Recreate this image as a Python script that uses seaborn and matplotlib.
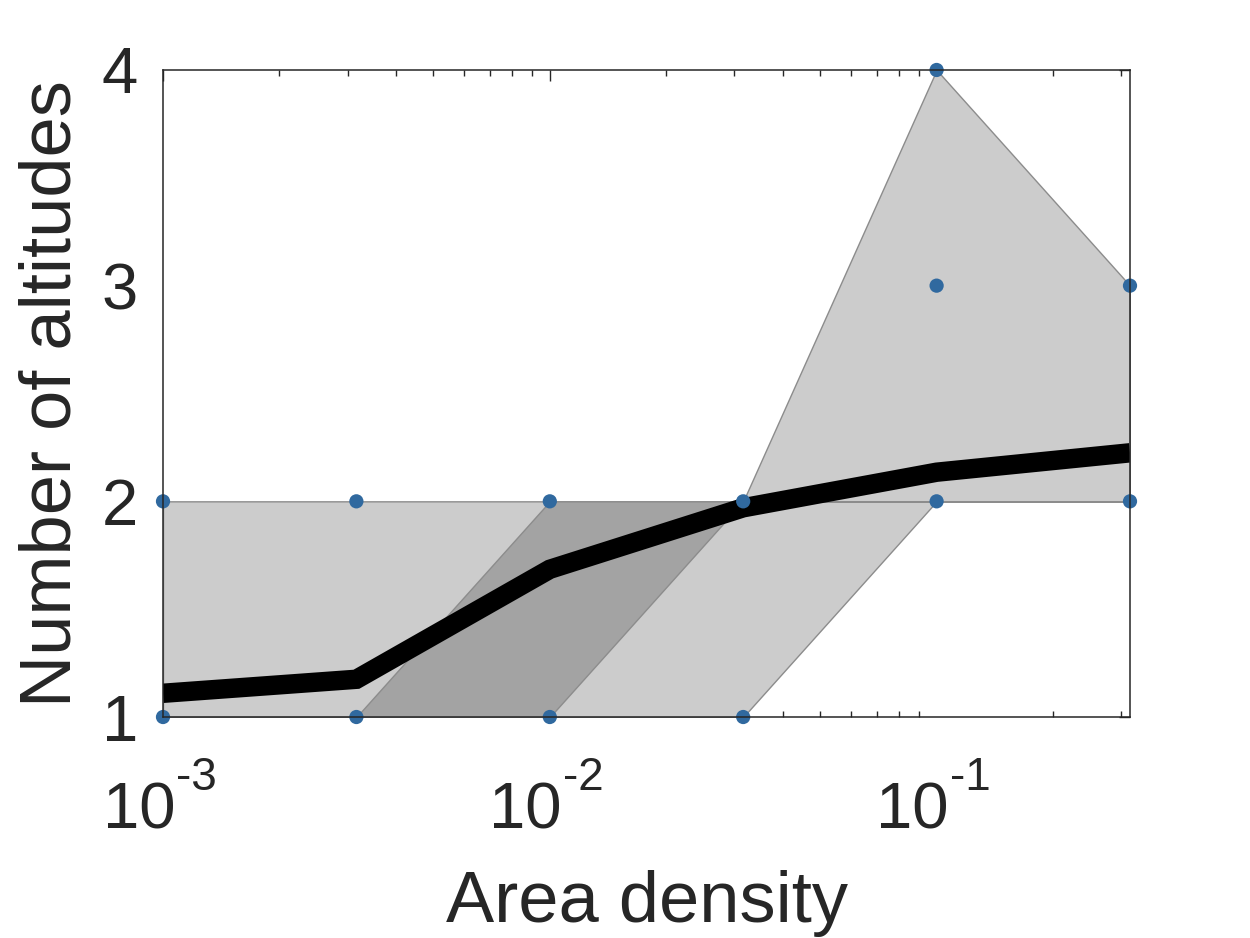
import math
import matplotlib
matplotlib.use("Agg")
import matplotlib.pyplot as plt
import matplotlib.ticker as mticker
import matplotlib.transforms as mtransforms
import seaborn as sns
import pandas as pd

# area densities (log spaced, half decades)
density = [1e-3, 3.162e-3, 1e-2, 3.162e-2, 1e-1, 3.162e-1]

# observed numbers of altitudes per density
obs_density = [1e-3, 1e-3, 3.162e-3, 3.162e-3, 1e-2, 1e-2, 3.162e-2, 3.162e-2,
               1e-1, 1e-1, 1e-1, 3.162e-1, 3.162e-1]
obs_altitudes = [1, 2, 1, 2, 1, 2, 1, 2, 2, 3, 4, 2, 3]

# summary curves
alt_min = [1, 1, 1, 1, 2, 2]
alt_max = [2, 2, 2, 2, 4, 3]
alt_q25 = [1, 1, 1, 2, 2, 2]
alt_q75 = [1, 1, 2, 2, 2, 2]
alt_mean = [1.11, 1.175, 1.685, 1.97, 2.135, 2.225]

x_major = [1e-3, 1e-2, 1e-1]

sns.set_style("white")
plt.rcParams['font.family'] = ['Liberation Sans', 'DejaVu Sans']

text_col = '#262626'

fig = plt.figure(figsize=(12.5, 9.38), dpi=100)
ax = fig.add_axes([0.1304, 0.2356, 0.7736, 0.6898])

ax.fill_between(density, alt_min, alt_max, facecolor='#cccccc',
                edgecolor='#8c8c8c', linewidth=1.0, zorder=1)
ax.fill_between(density, alt_q25, alt_q75, facecolor='#a3a3a3',
                edgecolor='#8c8c8c', linewidth=1.0, zorder=2)

df_mean = pd.DataFrame({'density': density, 'mean': alt_mean})
sns.lineplot(data=df_mean, x='density', y='mean', color='black',
             linewidth=14, ax=ax, zorder=3)
for ln in ax.lines:
    ln.set_solid_joinstyle('miter')
    ln.set_solid_capstyle('butt')

df_obs = pd.DataFrame({'density': obs_density, 'alt': obs_altitudes})
sns.scatterplot(data=df_obs, x='density', y='alt', color='#30699f', s=105,
                edgecolor='none', ax=ax, zorder=4, clip_on=False)

ax.set_xscale('log')
ax.set_xlim(density[0], density[-1])
ax.set_ylim(1, 4)
ax.set_yticks([1, 2, 3, 4])
ax.set_yticklabels(['1', '2', '3', '4'])
ax.xaxis.set_major_locator(mticker.FixedLocator(x_major))
ax.xaxis.set_minor_locator(mticker.LogLocator(base=10, subs=range(2, 10)))
ax.xaxis.set_major_formatter(mticker.NullFormatter())
ax.xaxis.set_minor_formatter(mticker.NullFormatter())

ax.tick_params(axis='both', which='major', direction='in', length=8, width=1,
               top=True, right=True, colors=text_col, labelsize=47)
ax.tick_params(axis='x', which='minor', direction='in', length=4.5, width=1,
               top=True, bottom=True, colors=text_col)
ax.tick_params(axis='y', which='major', pad=18)

# MATLAB-like "10^-n" tick labels: base and raised exponent
xt = ax.get_xaxis_transform()
for v in x_major:
    base_tr = xt + mtransforms.ScaledTranslation(0.12, -1.11, fig.dpi_scale_trans)
    sup_tr = xt + mtransforms.ScaledTranslation(0.13, -0.73, fig.dpi_scale_trans)
    ax.text(v, 0, '10', transform=base_tr, ha='right', va='baseline',
            fontsize=47, color=text_col, clip_on=False)
    ax.text(v, 0, '-%d' % round(-math.log10(v)), transform=sup_tr, ha='left',
            va='baseline', fontsize=33, color=text_col, clip_on=False)

for sp in ax.spines.values():
    sp.set_color(text_col)
    sp.set_linewidth(1.1)
    sp.set_zorder(5)

ax.set_xlabel('Area density', fontsize=52, color=text_col)
ax.xaxis.set_label_coords(0.5, -0.3168)
ax.xaxis.label.set_va('baseline')
ax.set_ylabel('Number of altitudes', fontsize=52, color=text_col, labelpad=12)

fig.savefig('out.png', dpi=100)
plt.close(fig)
